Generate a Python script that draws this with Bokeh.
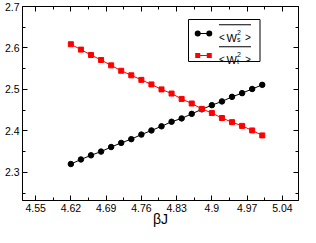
from bokeh.plotting import figure
from bokeh.models import (FixedTicker, LinearAxis, Range1d, BoxAnnotation, Label,
                          CustomLabelingPolicy)
from bokeh.embed import file_html
from bokeh.resources import INLINE

# ---- data ----
beta_j = [4.62, 4.64, 4.66, 4.68, 4.70, 4.72, 4.74, 4.76, 4.78, 4.80,
          4.82, 4.84, 4.86, 4.88, 4.90, 4.92, 4.94, 4.96, 4.98, 5.00]
ws2 = [2.320, 2.331, 2.341, 2.350, 2.361, 2.371, 2.380, 2.391, 2.401, 2.411,
       2.422, 2.430, 2.441, 2.452, 2.462, 2.471, 2.482, 2.491, 2.501, 2.511]
wt2 = [2.609, 2.596, 2.583, 2.571, 2.558, 2.545, 2.534, 2.523, 2.512, 2.500,
       2.490, 2.477, 2.466, 2.453, 2.443, 2.431, 2.421, 2.412, 2.401, 2.389]

x_ticks = [4.55, 4.62, 4.69, 4.76, 4.83, 4.90, 4.97, 5.04]
x_tick_labels = ["4.55", "4.62", "4.69", "4.76", "4.83", "4.9", "4.97", "5.04"]
x_minor = [4.515, 4.585, 4.655, 4.725, 4.795, 4.865, 4.935, 5.005, 5.075]
y_ticks = [2.3, 2.4, 2.5, 2.6, 2.7]
y_tick_labels = ["2.3", "2.4", "2.5", "2.6", "2.7"]
y_minor = [2.25, 2.35, 2.45, 2.55, 2.65]
x_title = "βJ"

FONT = "Liberation Sans"
FW, FH = 276, 194   # frame size in px

p = figure(frame_width=FW, frame_height=FH, output_backend="svg", toolbar_location=None,
           x_range=Range1d(4.524, 5.072), y_range=Range1d(2.232, 2.7),
           x_axis_location=None, y_axis_location=None,
           min_border_left=22, min_border_right=2, min_border_top=6, min_border_bottom=27)
p.grid.visible = False
p.outline_line_color = "black"
p.outline_line_width = 1
p.background_fill_color = "white"
p.border_fill_color = "white"

xt = FixedTicker(ticks=x_ticks, minor_ticks=x_minor)
yt = FixedTicker(ticks=y_ticks, minor_ticks=y_minor)
hide_all = CustomLabelingPolicy(code="""
for (const i of indices) { indices.unset(i) }
return indices
""")


def style(ax, labels):
    ax.major_tick_in = 5
    ax.major_tick_out = 0
    ax.minor_tick_in = 3
    ax.minor_tick_out = 0
    ax.axis_line_color = "black"
    ax.major_tick_line_color = "black"
    ax.minor_tick_line_color = "black"
    if labels is None:
        ax.major_label_text_font_size = "1px"
        ax.major_label_standoff = 0
        ax.major_label_policy = hide_all
    else:
        ax.major_label_overrides = labels
        ax.major_label_text_font = FONT
        ax.major_label_text_font_size = "10.5px"
        ax.major_label_text_color = "black"
        ax.major_label_standoff = 3


bottom = LinearAxis(ticker=xt, axis_label=x_title)
style(bottom, dict(zip(x_ticks, x_tick_labels)))
bottom.axis_label_text_font = FONT
bottom.axis_label_text_font_size = "14px"
bottom.axis_label_text_font_style = "normal"
bottom.axis_label_text_color = "black"
bottom.axis_label_standoff = -4
p.add_layout(bottom, "below")

left = LinearAxis(ticker=yt)
style(left, dict(zip(y_ticks, y_tick_labels)))
p.add_layout(left, "left")

top = LinearAxis(ticker=xt)
style(top, None)
p.add_layout(top, "above")

right = LinearAxis(ticker=yt)
style(right, None)
p.add_layout(right, "right")

# ---- series ----
p.line(beta_j, ws2, line_color="black", line_width=1)
p.scatter(beta_j, ws2, marker="circle", size=5.5, fill_color="black", line_color="black")
p.line(beta_j, wt2, line_color="red", line_width=1)
p.scatter(beta_j, wt2, marker="square", size=5, fill_color="red", line_color="red")

# ---- legend (offsets measured from the frame's top-left, flipped to screen units) ----
bx, by = 166, 13


def sbox(l, r, t, b, color, line=None, radius=0):
    return BoxAnnotation(left=l, right=r, top=FH - t, bottom=FH - b,
                         left_units="screen", right_units="screen",
                         top_units="screen", bottom_units="screen",
                         fill_color=color, fill_alpha=1,
                         line_color=line, line_alpha=1 if line else 0, line_width=1,
                         border_radius=radius)


p.add_layout(sbox(bx, bx + 71.5, by, by + 42, "white", line="black"))

entries = [("black", "circle", "s", 0), ("red", "square", "t", 22)]
for color, mk, sub, dy in entries:
    gy = by + 14 + dy
    p.add_layout(sbox(bx + 9.2, bx + 20.8, gy - 0.5, gy + 0.5, color))
    for cx in (bx + 9.2, bx + 20.8):
        if mk == "circle":
            p.add_layout(sbox(cx - 3, cx + 3, gy - 3, gy + 3, color, radius=3))
        else:
            p.add_layout(sbox(cx - 2.5, cx + 2.5, gy - 2.5, gy + 2.5, color))
    # overline
    p.add_layout(sbox(bx + 30.5, bx + 62.5, by + 4.8 + dy, by + 5.8 + dy, "black"))
    base = by + 18.5 + dy
    for txt, tx, ty, fs in [("<", bx + 30.5, base - 0.5, "10px"),
                            ("W", bx + 38.0, base, "11px"),
                            (sub, bx + 48.5, base + 1.5, "7px"),
                            ("2", bx + 48.5, base - 6, "7px"),
                            (">", bx + 56.5, base - 0.5, "10px")]:
        p.add_layout(Label(x=tx, y=FH - ty, x_units="screen", y_units="screen", text=txt,
                           text_font=FONT, text_font_size=fs, text_color="black",
                           text_align="left", text_baseline="alphabetic"))

open("out.html", "w").write(file_html(p, INLINE))
